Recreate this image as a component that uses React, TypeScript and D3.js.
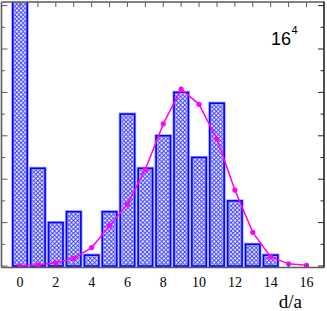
import React, { useEffect, useRef } from 'react';
import * as d3 from 'd3';

// bins of d/a
const bins = [0, 1, 2, 3, 4, 5, 6, 7, 8, 9, 10, 11, 12, 13, 14];
const histValues = [12.6, 4.5, 2, 2.5, 0.5, 2.5, 7, 4.5, 6, 8, 5, 7.5, 3, 1, 0.5];
const curveX = [0, 1, 2, 3, 4, 5, 6, 7, 8, 9, 10, 11, 12, 13, 14, 15, 16];
const curveValues = [0.01, 0.05, 0.15, 0.35, 0.85, 1.85, 2.85, 4.45, 6.55, 8.15, 7.45, 5.85, 3.5, 1.55, 0.42, 0.1, 0.03];
const xTickLabels = [0, 2, 4, 6, 8, 10, 12, 14, 16];

const W = 327;
const H = 311;
const frame = { left: 1.5, right: 324, top: 2, bottom: 267.5 };

const App = () => {
  const svgRef = useRef<SVGSVGElement>(null);

  useEffect(() => {
    const svg = d3.select(svgRef.current);
    svg.selectAll('*').remove();

    const x = d3.scaleLinear().domain([0, 16]).range([20, 306.5]);
    const y = d3.scaleLinear().domain([0, 12]).range([266, 5.6]);
    const barW = (x(1) - x(0)) * 0.8;

    const defs = svg.append('defs');
    const ps = 4.2;
    const pat = defs.append('pattern')
      .attr('id', 'xhatch')
      .attr('patternUnits', 'userSpaceOnUse')
      .attr('width', ps)
      .attr('height', ps);
    pat.append('rect').attr('width', ps).attr('height', ps).attr('fill', '#f4f4ff');
    pat.append('path')
      .attr('d', `M0,0L${ps},${ps}M${ps},0L0,${ps}`)
      .attr('stroke', '#2f2fff')
      .attr('stroke-width', 0.85);

    defs.append('clipPath').attr('id', 'plotclip')
      .append('rect')
      .attr('x', frame.left)
      .attr('y', frame.top)
      .attr('width', frame.right - frame.left)
      .attr('height', frame.bottom - frame.top);

    const plot = svg.append('g').attr('clip-path', 'url(#plotclip)');

    // bars
    const bars = plot.selectAll('g.bar')
      .data(bins)
      .join('g');
    bars.append('rect')
      .attr('x', (d) => x(d) - barW / 2)
      .attr('y', (d, i) => y(histValues[i]))
      .attr('width', barW)
      .attr('height', (d, i) => y(0) - y(histValues[i]))
      .attr('fill', 'url(#xhatch)')
      .attr('stroke', '#a0a0ff')
      .attr('stroke-width', 3.2);
    bars.append('rect')
      .attr('x', (d) => x(d) - barW / 2)
      .attr('y', (d, i) => y(histValues[i]))
      .attr('width', barW)
      .attr('height', (d, i) => y(0) - y(histValues[i]))
      .attr('fill', 'none')
      .attr('stroke', '#0000ff')
      .attr('stroke-width', 1.6);

    // curve
    const line = d3.line<number>()
      .x((d, i) => x(curveX[i]))
      .y((d) => y(d));
    plot.append('path')
      .datum(curveValues)
      .attr('fill', 'none')
      .attr('stroke', '#ff00ff')
      .attr('stroke-width', 1.5)
      .attr('d', line);
    plot.selectAll('circle')
      .data(curveValues)
      .join('circle')
      .attr('cx', (d, i) => x(curveX[i]))
      .attr('cy', (d) => y(d))
      .attr('r', 2.6)
      .attr('fill', '#ff00ff');

    // frame
    const axisColor = '#5a5a5a';
    svg.append('line').attr('x1', frame.left).attr('x2', frame.right + 0.8)
      .attr('y1', frame.top).attr('y2', frame.top)
      .attr('stroke', axisColor).attr('stroke-width', 1.6);
    svg.append('line').attr('x1', frame.left).attr('x2', frame.right)
      .attr('y1', frame.bottom).attr('y2', frame.bottom)
      .attr('stroke', axisColor).attr('stroke-width', 1.6);
    svg.append('line').attr('x1', frame.left).attr('x2', frame.left)
      .attr('y1', frame.top).attr('y2', frame.bottom)
      .attr('stroke', axisColor).attr('stroke-width', 1.6);
    svg.append('line').attr('x1', frame.right).attr('x2', frame.right)
      .attr('y1', frame.top).attr('y2', frame.bottom)
      .attr('stroke', '#222').attr('stroke-width', 1.6);

    // x ticks (top and bottom)
    const xTicks = d3.range(0, 17);
    svg.append('g').selectAll('line')
      .data(xTicks)
      .join('line')
      .attr('x1', (d) => x(d)).attr('x2', (d) => x(d))
      .attr('y1', frame.top).attr('y2', frame.top + 5)
      .attr('stroke', axisColor).attr('stroke-width', 1);
    svg.append('g').selectAll('line')
      .data(xTicks)
      .join('line')
      .attr('x1', (d) => x(d)).attr('x2', (d) => x(d))
      .attr('y1', frame.bottom).attr('y2', frame.bottom - 4)
      .attr('stroke', axisColor).attr('stroke-width', 1);

    // y ticks (left and right)
    const yTicks = d3.range(0, 13);
    svg.append('g').selectAll('line')
      .data(yTicks)
      .join('line')
      .attr('x1', frame.left).attr('x2', (d) => frame.left + (d % 2 === 0 ? 6 : 3.5))
      .attr('y1', (d) => y(d)).attr('y2', (d) => y(d))
      .attr('stroke', axisColor).attr('stroke-width', 1);
    svg.append('g').selectAll('line')
      .data(yTicks)
      .join('line')
      .attr('x1', frame.right).attr('x2', (d) => frame.right - (d % 2 === 0 ? 6 : 3.5))
      .attr('y1', (d) => y(d)).attr('y2', (d) => y(d))
      .attr('stroke', '#222').attr('stroke-width', 1);

    // x tick labels
    svg.append('g').selectAll('text')
      .data(xTickLabels)
      .join('text')
      .attr('x', (d) => x(d))
      .attr('y', 287)
      .attr('text-anchor', 'middle')
      .style('font-family', '"Liberation Serif", serif')
      .style('font-size', '14px')
      .text((d) => d);

    // axis title
    svg.append('text')
      .attr('x', 302)
      .attr('y', 308)
      .attr('text-anchor', 'end')
      .style('font-family', '"Liberation Serif", serif')
      .style('font-size', '19px')
      .text('d/a');

    // 16^4 annotation
    const ann = svg.append('text')
      .attr('x', 271)
      .attr('y', 45)
      .style('font-family', '"Liberation Sans", Arial, sans-serif')
      .style('font-size', '18px');
    ann.append('tspan').text('16');
    ann.append('tspan')
      .attr('dy', -11)
      .attr('dx', 0.5)
      .style('font-size', '11px')
      .text('4');
  }, []);

  return (
    <svg ref={svgRef} width={W} height={H} style={{ position: 'absolute', left: 0, top: 0 }}></svg>
  );
};

export default App;
